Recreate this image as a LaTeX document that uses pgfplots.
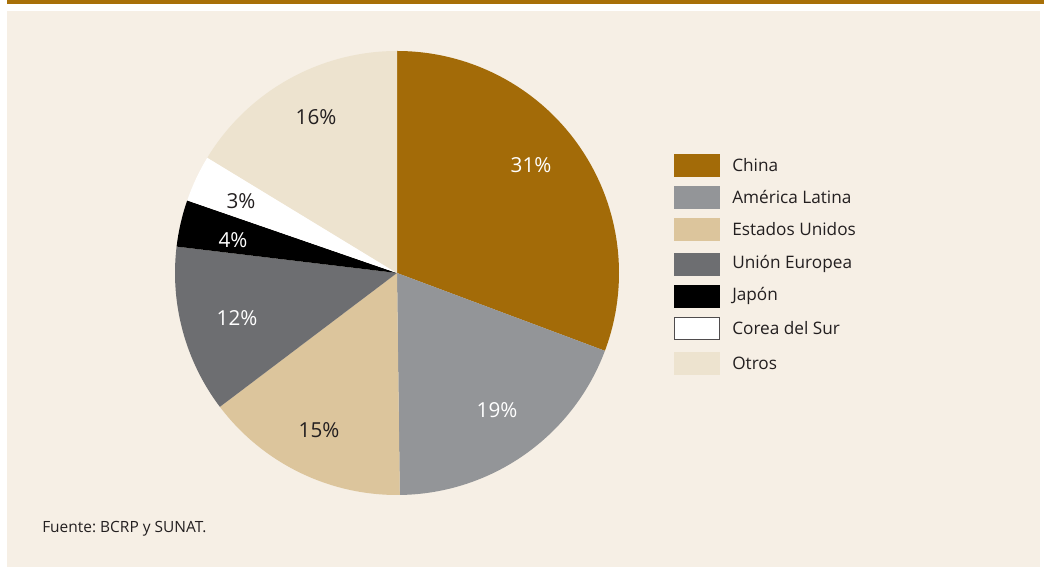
\documentclass[border=0pt]{standalone}
\usepackage{pgfplots}
\usepackage{pgfplotstable}
\pgfplotsset{compat=1.18}
\usepackage{fontspec}
\setmainfont{Open Sans}
\frenchspacing
\definecolor{bgc}{HTML}{F6EFE5}
\definecolor{barc}{HTML}{A87008}
\definecolor{txt}{HTML}{231F20}
\definecolor{c0}{HTML}{A36B08}
\definecolor{c1}{HTML}{939598}
\definecolor{c2}{HTML}{DCC59C}
\definecolor{c3}{HTML}{6D6E71}
\definecolor{c4}{HTML}{000000}
\definecolor{c5}{HTML}{FFFFFF}
\definecolor{c6}{HTML}{EDE3CF}
\newcommand\pcfont{\fontsize{15.5}{18}\selectfont}
\newcommand\lgfont{\fontsize{12.9}{15}\selectfont}
\newcommand\srcfont{\fontsize{11.6}{14}\selectfont}
\tikzset{lg/.style={anchor=west,txt,inner sep=0pt,font=\lgfont}}

\pgfplotstableread{
name value label
China 30.7 31
{América Latina} 19.1 19
{Estados Unidos} 14.9 15
{Unión Europea} 12.2 12
Japón 3.4 4
{Corea del Sur} 3.4 3
Otros 16.3 16
}\piedata

\begin{document}
\begin{tikzpicture}
\xdef\cum{0}
\foreach \i in {0,...,6}{
  \pgfplotstablegetelem{\i}{value}\of\piedata
  \let\v\pgfplotsretval
  \pgfmathsetmacro\s{90-3.6*\cum}
  \pgfmathsetmacro\e{90-3.6*(\cum+\v)}
  \expandafter\xdef\csname sa\i\endcsname{\s}
  \expandafter\xdef\csname ea\i\endcsname{\e}
  \pgfmathsetmacro\nc{\cum+\v}
  \xdef\cum{\nc}
}
\begin{axis}[x=0.75pt,y=0.75pt,xmin=0,xmax=1044,ymin=0,ymax=567,
  hide axis,clip=false,anchor=origin,at={(0,0)}]
\fill[barc] (axis cs:7,563) rectangle (axis cs:1044,567);
\fill[bgc] (axis cs:7,0) rectangle (axis cs:1040,556);
\pgfplotsinvokeforeach{0,...,6}{
  \fill[c#1] (axis cs:397,294) -- ++(\csname sa#1\endcsname:166.5pt)
    arc[start angle=\csname sa#1\endcsname, end angle=\csname ea#1\endcsname, radius=166.5pt] -- cycle;
}
% percentage labels
\node[white,font=\pcfont] at (axis cs:531,402) {31\%};
\node[white,font=\pcfont] at (axis cs:497,157) {19\%};
\node[txt,font=\pcfont] at (axis cs:319,137) {15\%};
\node[white,font=\pcfont] at (axis cs:237,249) {12\%};
\node[white,font=\pcfont] at (axis cs:233,327) {4\%};
\node[txt,font=\pcfont] at (axis cs:241,366) {3\%};
\node[txt,font=\pcfont] at (axis cs:316,450) {16\%};
% legend
\fill[c0] (axis cs:674,390) rectangle (axis cs:720,413);
\fill[c1] (axis cs:674,358) rectangle (axis cs:720,381);
\fill[c2] (axis cs:674,326) rectangle (axis cs:720,349);
\fill[c3] (axis cs:674,291) rectangle (axis cs:720,314);
\fill[c4] (axis cs:674,259) rectangle (axis cs:720,282);
\filldraw[fill=c5,draw=txt!80,line width=0.8pt] (axis cs:674.5,227.5) rectangle (axis cs:719.5,249.5);
\fill[c6] (axis cs:674,192) rectangle (axis cs:720,215);
\node[lg] at (axis cs:732,402) {China};
\node[lg] at (axis cs:732,370) {América Latina};
\node[lg] at (axis cs:732,338) {Estados Unidos};
\node[lg] at (axis cs:732,303) {Unión Europea};
\node[lg] at (axis cs:732,271) {Japón};
\node[lg] at (axis cs:732,239) {Corea del Sur};
\node[lg] at (axis cs:732,204) {Otros};
\node[anchor=west,txt,inner sep=0pt,font=\srcfont] at (axis cs:42,38) {Fuente: BCRP y SUNAT.};
\end{axis}
\pgfresetboundingbox
\useasboundingbox (0,0) rectangle (783pt,425.25pt);
\end{tikzpicture}
\end{document}
